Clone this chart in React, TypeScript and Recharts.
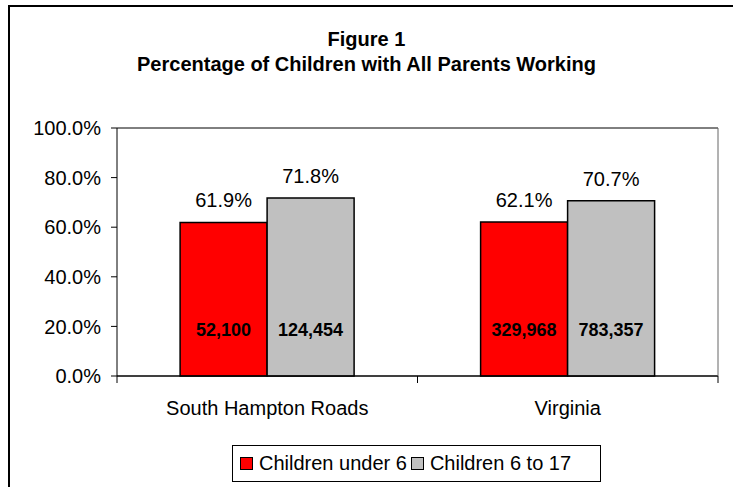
import React from "react";
import {
  BarChart, Bar, XAxis, YAxis, CartesianGrid, LabelList, Legend,
} from "recharts";

const regions = ["South Hampton Roads", "Virginia"];
const under6Pct = [61.9, 62.1];
const age6to17Pct = [71.8, 70.7];
const under6Count = [52100, 329968];
const age6to17Count = [124454, 783357];
const yTicks = [0, 20, 40, 60, 80, 100];

const seriesNames = ["Children under 6", "Children 6 to 17"];
const RED = "#FF0000";
const GREY = "#C0C0C0";
const FONT = "'Liberation Sans', Arial, Helvetica, sans-serif";

const data = regions.map((r, i) => ({
  region: r,
  under6: under6Pct[i],
  age6to17: age6to17Pct[i],
  under6Count: under6Count[i],
  age6to17Count: age6to17Count[i],
}));

const pct = (v: number) => `${Number(v).toFixed(1)}%`;

function CategoryTick(props: any) {
  const { x, y, payload } = props;
  const half = payload?.offset || 150;
  const axisY = y - 25;
  return (
    <g>
      <line x1={x - half} x2={x - half} y1={axisY} y2={axisY + 7} stroke="#000" />
      <line x1={x + half} x2={x + half} y1={axisY} y2={axisY + 7} stroke="#000" />
      <text x={x} y={y} dy="0.71em" textAnchor="middle" fontSize={20} fontFamily={FONT} fill="#000">
        {payload.value}
      </text>
    </g>
  );
}

// bold counts sit at a fixed height near the base of each bar
function CountLabel(props: any) {
  const { x, y, width, height, value } = props;
  return (
    <text
      x={x + width / 2}
      y={y + height - 46}
      dominantBaseline="central"
      textAnchor="middle"
      fontSize={18}
      fontWeight="bold"
      fontFamily={FONT}
      fill="#000"
    >
      {Number(value).toLocaleString("en-US")}
    </text>
  );
}

function LegendBox() {
  const colors = [RED, GREY];
  return (
    <div
      style={{
        border: "1px solid #000",
        height: 37,
        display: "flex",
        alignItems: "center",
        paddingLeft: 7,
        fontFamily: FONT,
        fontSize: 20,
        color: "#000",
        boxSizing: "border-box",
        width: 369,
        whiteSpace: "nowrap",
      }}
    >
      {seriesNames.map((n, i) => (
        <span key={n} style={{ display: "inline-flex", alignItems: "center", marginRight: 4 }}>
          <span
            style={{
              display: "inline-block",
              width: 11,
              height: 11,
              background: colors[i],
              border: "1px solid #000",
              marginRight: 6,
            }}
          />
          {n}
        </span>
      ))}
    </div>
  );
}

export default function App() {
  return (
    <div style={{ position: "absolute", left: 0, top: 0, width: 733, height: 487, overflow: "hidden", background: "#fff" }}>
      <div
        style={{
          position: "absolute",
          left: 8,
          top: 5,
          width: 760,
          height: 520,
          border: "2px solid #000",
          boxSizing: "border-box",
        }}
      />
      <div
        style={{
          position: "absolute",
          left: 0,
          top: 26.5,
          width: 733,
          textAlign: "center",
          fontFamily: FONT,
          fontWeight: "bold",
          fontSize: 20,
          lineHeight: "25px",
          color: "#000",
        }}
      >
        <div>Figure 1</div>
        <div>Percentage of Children with All Parents Working</div>
      </div>
      <div style={{ position: "absolute", left: 0, top: 0 }}>
        <BarChart
          width={733}
          height={487}
          data={data}
          margin={{ top: 128, right: 14, left: 0, bottom: 71 }}
          barCategoryGap="21%"
          barGap={0}
        >
          <CartesianGrid vertical={false} stroke="#000" />
          <XAxis
            dataKey="region"
            height={40}
            axisLine={{ stroke: "#000" }}
            tickLine={false}
            tickSize={7}
            tickMargin={18}
            tick={<CategoryTick />}
            interval={0}
          />
          <YAxis
            yAxisId="left"
            width={117}
            domain={[0, 100]}
            ticks={yTicks}
            tickFormatter={pct}
            axisLine={{ stroke: "#000" }}
            tickLine={{ stroke: "#000" }}
            tickSize={6}
            tickMargin={10}
            tick={{ fontSize: 20, fontFamily: FONT, fill: "#000" }}
          />
          <YAxis
            yAxisId="right"
            orientation="right"
            width={1}
            domain={[0, 100]}
            tick={false}
            tickLine={false}
            axisLine={{ stroke: "#666" }}
          />
          <Legend
            layout="horizontal"
            verticalAlign="middle"
            align="center"
            wrapperStyle={{ left: 232, top: 445, width: 369 }}
            content={() => <LegendBox />}
          />
          <Bar yAxisId="left" dataKey="under6" name={seriesNames[0]} fill={RED} stroke="#000" strokeWidth={1.5} isAnimationActive={false}>
            <LabelList dataKey="under6" position="top" offset={15} formatter={pct} fontSize={20} fontFamily={FONT} fill="#000" />
            <LabelList dataKey="under6Count" content={<CountLabel />} />
          </Bar>
          <Bar yAxisId="left" dataKey="age6to17" name={seriesNames[1]} fill={GREY} stroke="#000" strokeWidth={1.5} isAnimationActive={false}>
            <LabelList dataKey="age6to17" position="top" offset={15} formatter={pct} fontSize={20} fontFamily={FONT} fill="#000" />
            <LabelList dataKey="age6to17Count" content={<CountLabel />} />
          </Bar>
        </BarChart>
      </div>
    </div>
  );
}
